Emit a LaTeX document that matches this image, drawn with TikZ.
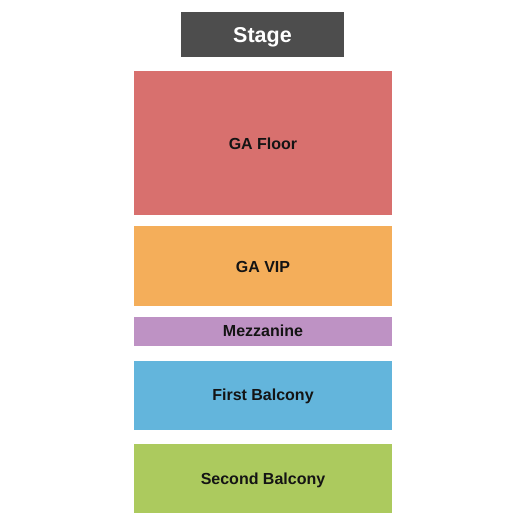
\documentclass[tikz,border=0pt]{standalone}
\usepackage{fontspec}
\setmainfont{Liberation Sans}
\definecolor{stagec}{RGB}{77,77,77}
\definecolor{floorc}{RGB}{216,112,110}
\definecolor{vipc}{RGB}{244,174,90}
\definecolor{mezzc}{RGB}{190,146,196}
\definecolor{firstc}{RGB}{99,181,220}
\definecolor{secondc}{RGB}{172,202,94}
\definecolor{txtc}{RGB}{20,20,20}
\begin{document}
\begin{tikzpicture}[x=1pt,y=-1pt,
  sect/.style={inner sep=0pt,text height=11.5pt,text depth=0pt,font=\bfseries\fontsize{16}{18}\selectfont,text=txtc}]
\useasboundingbox (0,0) rectangle (525,525);
\fill[white] (0,0) rectangle (525,525);
\fill[stagec] (181,12) rectangle (344,56.5);
\node[sect,text=white,text height=15.4pt,font=\bfseries\fontsize{21.5}{24}\selectfont] (stage) at (262.5,35) {Stage};
\fill[floorc] (134,71) rectangle (392,214.7);
\node[sect] (floor) at (263,144) {GA Floor};
\fill[vipc] (134,226) rectangle (392,305.7);
\node[sect] (vip) at (263,267) {GA VIP};
\fill[mezzc] (134,316.7) rectangle (392,345.7);
\node[sect] (mezz) at (263,331) {Mezzanine};
\fill[firstc] (134,361) rectangle (392,430);
\node[sect] (first) at (263,394.5) {First Balcony};
\fill[secondc] (134,444) rectangle (392,512.7);
\node[sect] (second) at (263,479) {Second Balcony};
\end{tikzpicture}
\end{document}
